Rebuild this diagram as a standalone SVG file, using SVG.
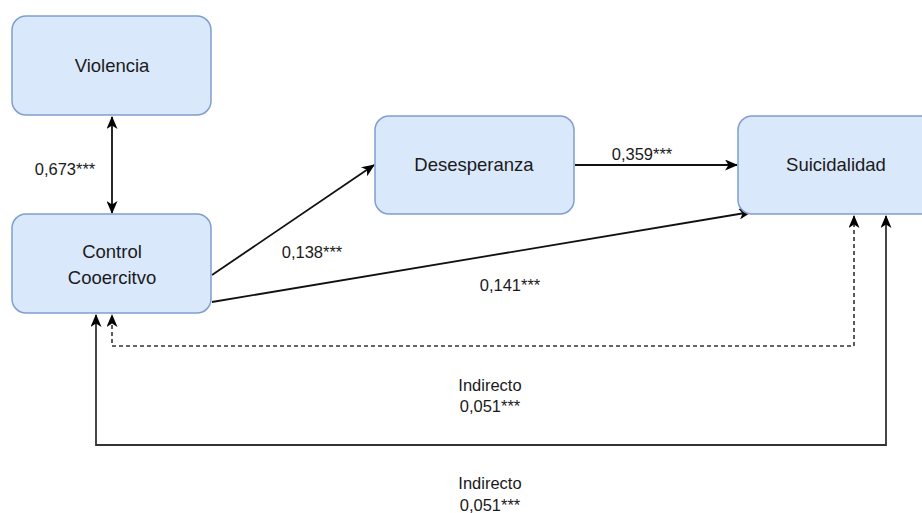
<svg xmlns="http://www.w3.org/2000/svg" width="922" height="513" viewBox="0 0 922 513">
<style>
.box{fill:#dae8fc;stroke:#7f9fcf;stroke-width:1.5}
.t{font-family:"Liberation Sans",Arial,sans-serif;font-size:18.5px;fill:#1a1a1a;text-anchor:middle}
.l{font-family:"Liberation Sans",Arial,sans-serif;font-size:16.5px;fill:#1a1a1a;text-anchor:middle}
.e{fill:none;stroke:#111;stroke-width:1.8}
.f{fill:none;stroke:#333;stroke-width:1.8}
.d{fill:none;stroke:#333;stroke-width:1.6;stroke-dasharray:4 3}
</style>
<defs>
<marker id="a" viewBox="0 0 13 11" refX="12" refY="5.5" markerWidth="13" markerHeight="11" markerUnits="userSpaceOnUse" orient="auto-start-reverse">
<path d="M0,0 L13,5.5 L0,11 L3.5,5.5 z" fill="#000"/>
</marker>
</defs>
<g id="connectors">
<line class="e" x1="112" y1="117" x2="112" y2="213" marker-start="url(#a)" marker-end="url(#a)"/>
<line class="e" x1="575" y1="165" x2="737" y2="165" marker-end="url(#a)"/>
<line class="e" x1="212" y1="275" x2="374" y2="165" marker-end="url(#a)"/>
<line class="e" x1="212" y1="302" x2="751" y2="212" marker-end="url(#a)"/>
<polyline class="d" points="854,216 854,346 112,346 112,315" marker-start="url(#a)" marker-end="url(#a)"/>
<polyline class="f" points="886,216 886,445 96,445 96,315" marker-start="url(#a)" marker-end="url(#a)"/>
</g>
<g id="violencia">
<rect class="box" x="12" y="16" width="199" height="99" rx="14"/>
<text class="t" x="112" y="72">Violencia</text>
</g>
<g id="control">
<rect class="box" x="12" y="214" width="199" height="99" rx="14"/>
<text class="t" x="112" y="258">Control</text>
<text class="t" x="112" y="284">Cooercitvo</text>
</g>
<g id="desesperanza">
<rect class="box" x="375" y="116" width="199" height="98" rx="14"/>
<text class="t" x="474" y="171">Desesperanza</text>
</g>
<g id="suicidalidad">
<rect class="box" x="738" y="116" width="200" height="98" rx="14"/>
<text class="t" x="836" y="171">Suicidalidad</text>
</g>
<g id="labels">
<text class="l" x="65" y="175">0,673***</text>
<text class="l" x="642" y="160">0,359***</text>
<text class="l" x="312" y="258">0,138***</text>
<text class="l" x="510" y="291">0,141***</text>
<text class="l" x="490" y="391">Indirecto</text>
<text class="l" x="490" y="412">0,051***</text>
<text class="l" x="490" y="489">Indirecto</text>
<text class="l" x="490" y="511">0,051***</text>
</g>
</svg>
